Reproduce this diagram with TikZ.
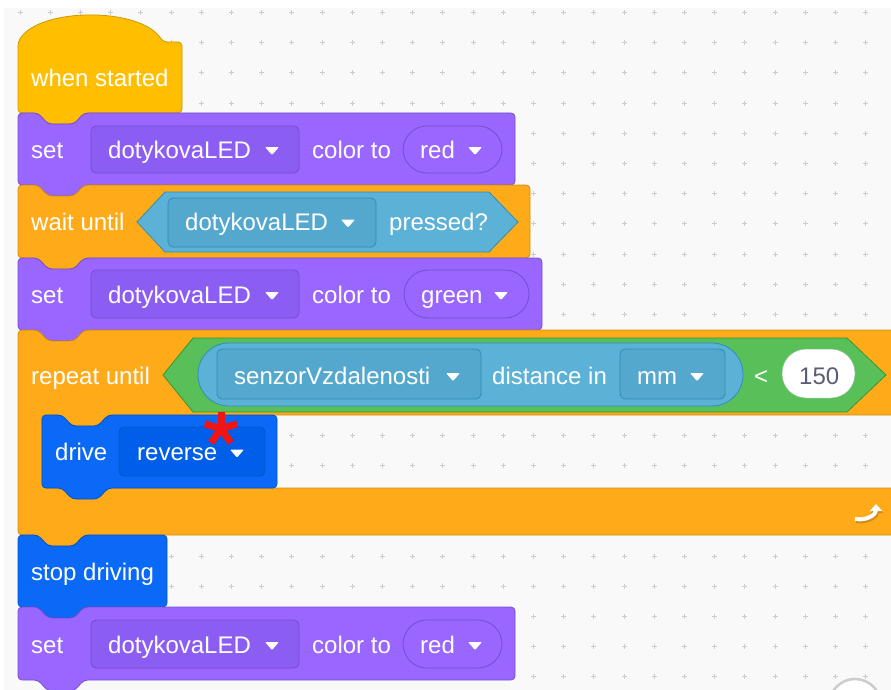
\documentclass[tikz,border=0pt]{standalone}
\usepackage{fontspec}
\setmainfont{Liberation Sans}
\usetikzlibrary{arrows.meta}

\definecolor{canvas}{HTML}{F9F9F9}
\definecolor{gridmark}{HTML}{CCCCCC}
\definecolor{eventsfill}{HTML}{FFBF00}
\definecolor{eventsline}{HTML}{CC9900}
\definecolor{looksfill}{HTML}{9966FF}
\definecolor{looksline}{HTML}{774DCB}
\definecolor{looksfield}{HTML}{8C5DF2}
\definecolor{controlfill}{HTML}{FFAB19}
\definecolor{controlline}{HTML}{CF8B17}
\definecolor{sensingfill}{HTML}{5CB1D6}
\definecolor{sensingline}{HTML}{2E8EB8}
\definecolor{sensingfield}{HTML}{55A8CD}
\definecolor{operatorfill}{HTML}{59C059}
\definecolor{operatorline}{HTML}{389438}
\definecolor{drivefill}{HTML}{0A6AF7}
\definecolor{driveline}{HTML}{0052CC}
\definecolor{drivefield}{HTML}{005FE8}
\definecolor{numtext}{HTML}{575E75}
\definecolor{marker}{HTML}{F01414}

% stack block: style, left, top, right, bottom (notch on top, tab below)
\newcommand{\stackblock}[5]{%
  \filldraw[#1, rounded corners=4pt] (#2,#3) -- ++(20,0) -- ++(10,11) -- ++(26,0) -- ++(10,-11)
    -- (#4,#3) -- (#4,#5) -- (#2+66,#5) -- ++(-10,11) -- ++(-26,0) -- ++(-10,-11)
    -- (#2,#5) -- cycle;}
% white drop-down arrow centred at x, row centre y
\newcommand{\dropdown}[2]{%
  \fill[white, rounded corners=1pt] (#1-7,#2-2) -- (#1+7,#2-2) -- (#1,#2+6) -- cycle;}

\begin{document}
\begin{tikzpicture}[
    x=1pt, y=-1pt,
    label/.style={font=\fontsize{24}{28}\selectfont, text=white, inner sep=0pt, anchor=base west},
    events/.style={fill=eventsfill, draw=eventsline, line width=0.8pt},
    looks/.style={fill=looksfill, draw=looksline, line width=0.8pt},
    control/.style={fill=controlfill, draw=controlline, line width=0.8pt},
    drivetrain/.style={fill=drivefill, draw=driveline, line width=0.8pt},
    sensing/.style={fill=sensingfill, draw=sensingline, line width=0.8pt},
    operator/.style={fill=operatorfill, draw=operatorline, line width=0.8pt},
    looksbox/.style={fill=looksfield, draw=looksline, line width=0.8pt, rounded corners=5pt},
    looksoval/.style={fill=looksfill, draw=looksline, line width=0.8pt, rounded corners=24pt},
    sensingbox/.style={fill=sensingfield, draw=sensingline, line width=0.8pt, rounded corners=5pt},
    drivebox/.style={fill=drivefield, draw=driveline, line width=0.8pt, rounded corners=5pt},
    numoval/.style={fill=white, draw=operatorline!60, line width=0.5pt, rounded corners=24pt},
    looparrow/.style={line width=4pt, -{Triangle[width=12pt,length=7pt]}}
]
\useasboundingbox (0,0) rectangle (891,690);
\clip (0,0) rectangle (891,690);

% workspace with dotted grid
\fill[white] (0,0) rectangle (891,690);
\fill[canvas] (4,8) rectangle (891,690);
\foreach \i in {0,...,29} {
  \foreach \j in {0,...,22} {
    \draw[gridmark, line width=0.9pt] (20+30.2*\i-2.5,12.5+30.2*\j) -- ++(5,0)
      (20+30.2*\i,12.5+30.2*\j-2.5) -- ++(0,5);
  }
}

% zoom button in the corner
\filldraw[fill=white, draw=gridmark, line width=2.5pt] (855,705) circle (26);

% hat block
\filldraw[events, rounded corners=4pt] (18,113) -- (18,42) .. controls (40,7) and (141,7) .. (163,42)
  -- (182,42) -- (182,113) -- (84,113) -- ++(-10,11) -- ++(-26,0) -- ++(-10,-11) -- cycle;
\node[label] (started) at (31,87) {when started};

% set LED red
\stackblock{looks}{18}{113}{515}{185}
\node[label] (set1) at (31,158) {set};
\filldraw[looksbox] (91,126) rectangle (299,173);
\node[label] (led1) at (108,158) {dotykovaLED};
\dropdown{272}{149}
\node[label] (colorto1) at (312,158) {color to};
\filldraw[looksoval] (403,126) rectangle (502,173);
\node[label] (red1) at (420,158) {red};
\dropdown{475}{149}

% wait until pressed
\stackblock{control}{18}{185}{530}{258}
\node[label] (wait) at (31,230.5) {wait until};
\filldraw[sensing] (137,222) -- (165,192) -- (489,192) -- (518,222) -- (489,252) -- (165,252) -- cycle;
\filldraw[sensingbox] (168,198) rectangle (376,247);
\node[label] (led2) at (185,230.5) {dotykovaLED};
\dropdown{348}{221.5}
\node[label] (pressed) at (389,230.5) {pressed?};

% set LED green
\stackblock{looks}{18}{258}{542}{330}
\node[label] (set2) at (31,303) {set};
\filldraw[looksbox] (91,270) rectangle (299,318);
\node[label] (led3) at (108,303) {dotykovaLED};
\dropdown{272}{294}
\node[label] (colorto2) at (312,303) {color to};
\filldraw[looksoval] (404,270) rectangle (529,318);
\node[label] (green) at (421,303) {green};
\dropdown{501}{294}

% repeat until loop (C shape)
\filldraw[control, rounded corners=4pt] (18,330) -- ++(20,0) -- ++(10,11) -- ++(26,0) -- ++(10,-11)
  -- (905,330) -- (905,415) -- (108,415) -- ++(-10,11) -- ++(-26,0) -- ++(-10,-11)
  -- (42,415) -- (42,488) -- (905,488) -- (905,535) -- (84,535) -- ++(-10,11) -- ++(-26,0)
  -- ++(-10,-11) -- (18,535) -- cycle;
\node[label] (repeat) at (31,384) {repeat until};
\filldraw[operator] (163,375) -- (193,338) -- (847,338) -- (886,375) -- (847,412) -- (193,412) -- cycle;
\filldraw[sensing, rounded corners=31pt] (198,343) rectangle (743,406);
\filldraw[sensingbox] (217,349) rectangle (481,399);
\node[label] (sensor) at (234,384) {senzorVzdalenosti};
\dropdown{453}{375}
\node[label] (distance) at (492,384) {distance in};
\filldraw[sensingbox] (620,349) rectangle (725,399);
\node[label] (unit) at (637,384) {mm};
\dropdown{697}{375}
\node[label] (less) at (754,384) {<};
\filldraw[numoval] (782,349) rectangle (855,398);
\node[label, text=numtext] (limit) at (799,384) {150};

% loop arrow
\draw[looparrow, controlline] (856,521) .. controls (869,523) and (877,516) .. (877,506);
\draw[looparrow, white] (855,519) .. controls (868,521) and (876,514) .. (876,504);

% drive reverse inside the loop
\stackblock{drivetrain}{42}{415}{277}{488}
\node[label] (drive) at (55,460.5) {drive};
\filldraw[drivebox] (119,427) rectangle (265,476);
\node[label] (reverse) at (137,460.5) {reverse};
\dropdown{237}{451.5}

% red asterisk mark
\foreach \a in {-90,-18,54,126,198}
  \draw[marker, line width=7pt] (221,429) -- ++(\a:17);

% stop driving
\stackblock{drivetrain}{18}{535}{167}{607}
\node[label] (stop) at (31,580) {stop driving};

% set LED red again
\stackblock{looks}{18}{607}{515}{680}
\node[label] (set3) at (31,653) {set};
\filldraw[looksbox] (91,620) rectangle (299,668);
\node[label] (led4) at (108,653) {dotykovaLED};
\dropdown{272}{644}
\node[label] (colorto3) at (312,653) {color to};
\filldraw[looksoval] (403,620) rectangle (502,668);
\node[label] (red2) at (420,653) {red};
\dropdown{475}{644}

\end{tikzpicture}
\end{document}
